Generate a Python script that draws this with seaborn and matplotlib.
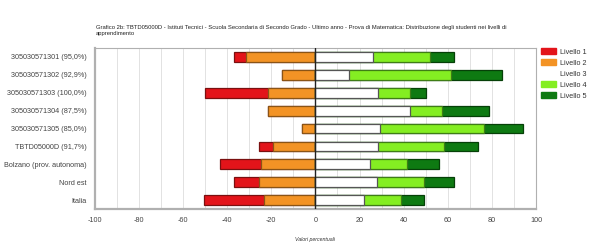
import numpy as np
import pandas as pd
import seaborn as sns
import matplotlib
matplotlib.use("Agg")
import matplotlib.pyplot as plt
from matplotlib.patches import Patch

# Data (percent of students per level)
categories = ['305030571301 (95,0%)', '305030571302 (92,9%)', '305030571303 (100,0%)',
              '305030571304 (87,5%)', '305030571305 (85,0%)', 'TBTD05000D (91,7%)',
              'Bolzano (prov. autonoma)', 'Nord est', 'Italia']
livello1 = [5.3, 0.0, 28.6, 0.0, 0.0, 6.4, 18.7, 11.1, 27.2]
livello2 = [31.5, 15.3, 21.4, 21.4, 5.9, 19.3, 24.6, 25.7, 23.3]
livello3 = [25.9, 15.3, 28.6, 42.9, 29.4, 28.5, 24.7, 27.7, 22.1]
livello4 = [26.2, 46.1, 14.3, 14.3, 47.1, 29.7, 16.7, 21.5, 16.7]
livello5 = [10.6, 23.0, 7.1, 21.4, 17.6, 15.7, 14.5, 13.5, 10.4]

level_names = ['Livello 1', 'Livello 2', 'Livello 3', 'Livello 4', 'Livello 5']
fills = ['#e3141a', '#f39325', '#ffffff', '#84ee22', '#0e7a12']
edges = ['#7a1010', '#8a5416', '#555555', '#3f7d16', '#064008']

df = pd.DataFrame({'cat': categories, 'l1': livello1, 'l2': livello2,
                   'l3': livello3, 'l4': livello4, 'l5': livello5})
# cumulative ends, negative side for levels 1-2
df['neg12'] = -(df['l1'] + df['l2'])
df['neg2'] = -df['l2']
df['pos345'] = df['l3'] + df['l4'] + df['l5']
df['pos34'] = df['l3'] + df['l4']
df['pos3'] = df['l3']

sns.set_style('white')
plt.rcParams['font.family'] = ['Liberation Sans', 'DejaVu Sans']
plt.rcParams['axes.unicode_minus'] = False
fig = plt.figure(figsize=(5.89, 2.46), dpi=100)
ax = fig.add_axes([0.161, 0.150, 0.749, 0.655])

layers = [('neg12', 0), ('neg2', 1), ('pos345', 4), ('pos34', 3), ('pos3', 2)]
for col, i in layers:
    sns.barplot(data=df, y='cat', x=col, orient='h', color=fills[i],
                edgecolor=edges[i], linewidth=0.9, width=0.55, ax=ax,
                saturation=1, errorbar=None)

ax.set_xlim(-100, 100)
ax.set_xticks(np.arange(-100, 101, 20))
ax.set_xticks(np.arange(-100, 101, 10), minor=True)
ax.grid(axis='x', which='both', color='#dddddd', linewidth=0.6)
ax.set_axisbelow(True)
ax.axvline(0, color='#222222', linewidth=1.0, zorder=5)
ax.tick_params(axis='both', labelsize=5.2, colors='#444444', length=0, pad=6)
ax.tick_params(axis='x', which='minor', length=0)
ax.set_ylabel('')
ax.set_xlabel('Valori percentuali', fontsize=3.8, fontstyle='italic', color='#333333', labelpad=9)
for s in ax.spines.values():
    s.set_color('#b0b0b0')
    s.set_linewidth(0.8)
ax.spines['bottom'].set_linewidth(1.6)
ax.spines['left'].set_linewidth(1.6)

fig.text(0.163, 0.876, 'Grafico 2b: TBTD05000D - Istituti Tecnici - Scuola Secondaria di Secondo Grado - Ultimo anno - '
         'Prova di Matematica: Distribuzione degli studenti nei livelli di\napprendimento',
         fontsize=4.2, color='#222222', va='center', linespacing=1.45)

handles = [Patch(facecolor=fills[i], edgecolor=fills[i]) for i in range(5)]
fig.legend(handles, level_names, loc='upper left', bbox_to_anchor=(0.919, 0.805),
           frameon=False, fontsize=5.2, handlelength=2.0, handleheight=0.95,
           labelspacing=0.48, handletextpad=0.55, borderaxespad=0, borderpad=0,
           labelcolor='#333333')

fig.savefig('out.png', dpi=100)
